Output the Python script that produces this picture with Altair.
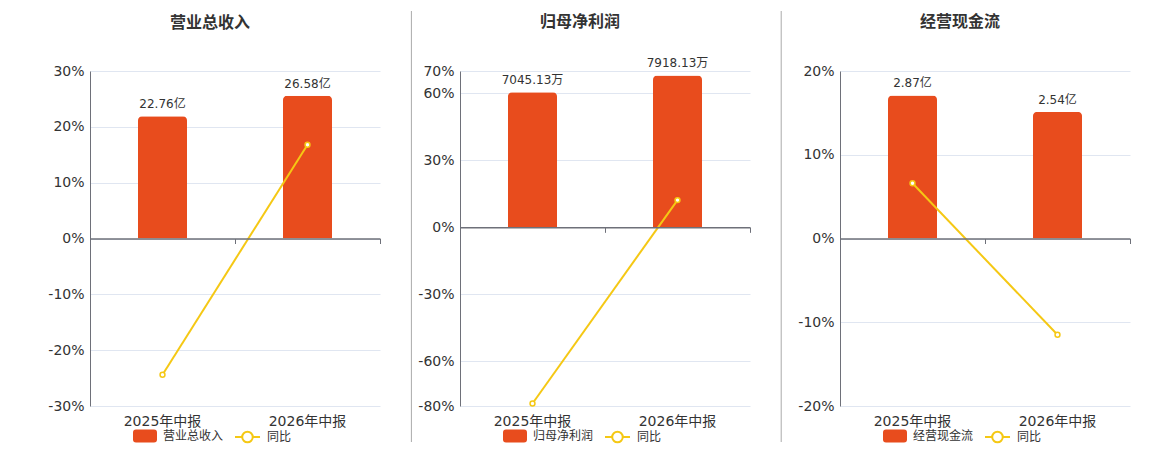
import altair as alt
import pandas as pd

periods = ["2025年中报", "2026年中报"]
titles = ["营业总收入", "归母净利润", "经营现金流"]

rev_values = [22.76, 26.58]
rev_labels = ["22.76亿", "26.58亿"]
rev_yoy = [-24.4, 16.8]

np_values = [7045.13, 7918.13]
np_labels = ["7045.13万", "7918.13万"]
np_yoy = [-78.9, 12.2]

cf_values = [2.87, 2.54]
cf_labels = ["2.87亿", "2.54亿"]
cf_yoy = [6.6, -11.5]

pct_domains = [[-30, 30], [-80, 70], [-20, 20]]
pct_ticks = [[-30, -20, -10, 0, 10, 20, 30],
             [-80, -60, -30, 0, 30, 60, 70],
             [-20, -10, 0, 10, 20]]
bar_domains = [[-31.2, 31.2], [-9312, 8148], [-3.36, 3.36]]

BAR = "#E84C1D"
LINE = "#F5C814"
AXIS = "#6E7079"
GRID = "#E0E6F1"
TEXT = "#333333"
FONT = "DejaVu Sans, Noto Sans CJK SC"
W, H = 290, 335

# legend symbols (unit = 6px, entry box 12px): rounded swatch 24x13, line with hollow circle 25px
RECT_PATH = ("M-0.5,-1.08L2.5,-1.08Q3,-1.08,3,-0.58L3,0.58Q3,1.08,2.5,1.08"
             "L-0.5,1.08Q-1,1.08,-1,0.58L-1,-0.58Q-1,-1.08,-0.5,-1.08Z")
LINE_PATH = ("M-1,0L0.2,0M1.96,0L3.17,0M0.2,0A0.88,0.88,0,1,0,1.96,0"
             "A0.88,0.88,0,1,0,0.2,0Z")


def panel(i, values, labels, yoy, axis_extent, sep_x, sep_opacity):
    df = pd.DataFrame({"period": periods, "value": values, "label": labels,
                       "yoy": yoy, "series": titles[i], "yoy_name": "同比"})
    base = alt.Chart(df)
    lo, hi = pct_domains[i]

    x_lab = alt.X("period:N", sort=periods,
                  scale=alt.Scale(paddingInner=0, paddingOuter=0),
                  axis=alt.Axis(title=None, domain=False, ticks=False, labelAngle=0,
                                labelFontSize=14, labelColor=TEXT, labelFont=FONT,
                                labelPadding=8, grid=False))
    y_bar = alt.Y("value:Q", scale=alt.Scale(domain=bar_domains[i], nice=False, zero=False),
                  axis=None)
    bars = base.mark_bar(width=49, cornerRadiusTopLeft=4, cornerRadiusTopRight=4).encode(
        x=x_lab, y=y_bar,
        fill=alt.Fill("series:N", scale=alt.Scale(domain=[titles[i]], range=[BAR]),
                      legend=alt.Legend(title=None, orient="none", legendX=43, legendY=359,
                                        symbolType=RECT_PATH, symbolSize=144,
                                        symbolStrokeWidth=0, symbolOpacity=1,
                                        labelFontSize=12, labelColor=TEXT, labelFont=FONT,
                                        labelOffset=18, padding=0)))
    texts = base.mark_text(baseline="bottom", dy=-5, fontSize=12, color=TEXT, font=FONT).encode(
        x=x_lab, y=y_bar, text="label:N")
    bar_layer = alt.layer(bars, texts)

    x_zero = alt.X("period:N", sort=periods,
                   axis=alt.Axis(title=None, labels=False, domain=True, domainColor=AXIS,
                                 domainWidth=1.5, ticks=True, tickColor=AXIS, tickSize=5,
                                 tickBand="extent", grid=False, orient="bottom",
                                 offset=-H * (0 - lo) / (hi - lo), zindex=1))
    y_pct = alt.Y("yoy:Q", scale=alt.Scale(domain=pct_domains[i], nice=False, zero=False),
                  axis=alt.Axis(title=None, orient="left", values=pct_ticks[i],
                                labelExpr="datum.value + '%'", labelFontSize=14,
                                labelColor=TEXT, labelFont=FONT, labelPadding=6,
                                ticks=False, domain=True, domainColor=AXIS,
                                grid=True, gridColor=GRID, minExtent=axis_extent,
                                labelOverlap=False))
    line = base.mark_line(strokeWidth=2).encode(
        x=x_zero, y=y_pct,
        stroke=alt.Stroke("yoy_name:N", scale=alt.Scale(domain=["同比"], range=[LINE]),
                          legend=alt.Legend(title=None, orient="none", legendX=144, legendY=359,
                                            symbolType=LINE_PATH, symbolSize=144,
                                            symbolStrokeWidth=2, symbolFillColor="white",
                                            labelFontSize=12, labelColor=TEXT, labelFont=FONT,
                                            labelOffset=19, padding=0)))
    pts = base.mark_point(shape="circle", size=24, filled=True, fill="white",
                          stroke=LINE, strokeWidth=1.5, opacity=1).encode(x=x_zero, y=y_pct)
    pct_layer = alt.layer(line, pts)

    # panel separator (also keeps every panel's bounds identical)
    sep = alt.Chart(alt.Data(values=[{"k": 1}])).mark_rule(
        color="#AAAAAA", strokeWidth=1, opacity=sep_opacity).encode(
        x=alt.value(sep_x), y=alt.value(-60), y2=alt.value(371))

    return alt.layer(bar_layer, pct_layer, sep).resolve_scale(y="independent").resolve_axis(
        x="independent").properties(
        width=W, height=H,
        title=alt.Title(titles[i], fontSize=16, font="Noto Sans CJK SC", fontWeight="bold",
                        color=TEXT, dx=-25, offset=-19.5, anchor="middle"))


p1 = panel(0, rev_values, rev_labels, rev_yoy, 77, 0, 0)
p2 = panel(1, np_values, np_labels, np_yoy, 69, -48.6, 1)
p3 = panel(2, cf_values, cf_labels, cf_yoy, 79, -58.8, 1)

chart = alt.hconcat(p1, p2, p3, spacing=10).resolve_scale(
    fill="independent", stroke="independent").resolve_legend(
    fill="independent", stroke="independent").properties(
    padding={"left": 5, "top": 2, "right": 5, "bottom": 0}).configure_view(stroke=None)

chart.save("out.html", embed_options={"renderer": "svg", "actions": False})
